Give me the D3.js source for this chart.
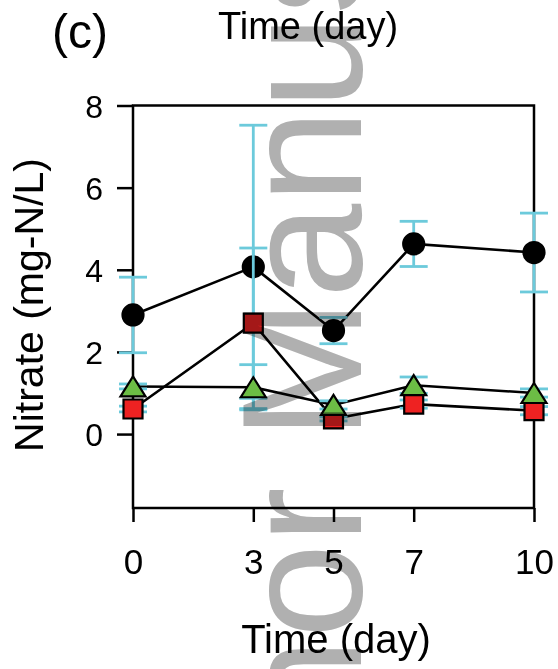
<!DOCTYPE html>
<html>
<head>
<meta charset="utf-8">
<script src="https://cdn.jsdelivr.net/npm/d3@7"></script>
<style>
  html, body { margin: 0; padding: 0; background: #fff; }
  svg { display: block; }
  text { font-family: "Liberation Sans", Arial, Helvetica, sans-serif; fill: #000; }
</style>
</head>
<body>
<svg id="chart" width="558" height="669"></svg>
<script>
// Sampling days
const days = [0, 3, 5, 7, 10];

// Nitrate (mg-N/L), mean and error for each treatment
const circleMean   = [2.90, 4.07, 2.52, 4.63, 4.42];
const circleErr    = [0.92, 3.45, 0.32, 0.55, 0.96];
const squareMean   = [0.61, 2.70, 0.37, 0.73, 0.57];
const squareErr    = [0.07, 1.83, 0.05, 0.10, 0.10];
const triangleMean = [1.16, 1.14, 0.71, 1.19, 1.00];
const triangleErr  = [0.06, 0.55, 0.10, 0.20, 0.10];

const yTicks = [0, 2, 4, 6, 8];
const xTicks = [0, 3, 5, 7, 10];

const svg = d3.select("#chart");

const x = d3.scaleLinear().domain([0, 10]).range([133, 534]);
const y = d3.scaleLinear().domain([-1.8, 8]).range([508, 105.5]);

const errColor = "#6ccadb";

// Axes
const yAxis = svg.append("g")
  .attr("transform", `translate(${x(0)},0)`)
  .call(d3.axisLeft(y).tickValues(yTicks).tickSize(16).tickSizeOuter(0).tickPadding(14));
yAxis.select(".domain").remove();
yAxis.selectAll(".tick line").attr("stroke", "#000").attr("stroke-width", 2.5);
yAxis.selectAll(".tick text")
  .style("font-size", "32px")
  .attr("dy", "0.36em");

const xAxis = svg.append("g")
  .attr("transform", `translate(0,${y(-1.8)})`)
  .call(d3.axisBottom(x).tickValues(xTicks).tickSize(14).tickSizeOuter(0).tickPadding(27));
xAxis.select(".domain").remove();
xAxis.selectAll(".tick line").attr("stroke", "#000").attr("stroke-width", 2.5);
xAxis.selectAll(".tick text")
  .style("font-size", "35px")
  .attr("dy", "0.71em");

// Frame
svg.append("rect")
  .attr("x", x(0)).attr("y", y(8))
  .attr("width", x(10) - x(0)).attr("height", y(-1.8) - y(8))
  .attr("fill", "none").attr("stroke", "#000").attr("stroke-width", 2.5);

// Series drawing helper
const line = d3.line().x(d => x(d.day)).y(d => y(d.v));

function drawSeries(means, errs, shape, fill) {
  const data = days.map((d, i) => ({ day: d, v: means[i], e: errs[i] }));
  const g = svg.append("g");
  g.append("path").datum(data)
    .attr("d", line).attr("fill", "none")
    .attr("stroke", "#000").attr("stroke-width", 2.6);
  const eb = g.selectAll(".err").data(data).join("g").attr("class", "err")
    .attr("stroke", errColor).attr("stroke-width", 2.8);
  eb.append("line")
    .attr("x1", d => x(d.day)).attr("x2", d => x(d.day))
    .attr("y1", d => y(d.v + d.e)).attr("y2", d => y(d.v - d.e));
  eb.append("line")
    .attr("x1", d => x(d.day) - 14).attr("x2", d => x(d.day) + 14)
    .attr("y1", d => y(d.v + d.e)).attr("y2", d => y(d.v + d.e));
  eb.append("line")
    .attr("x1", d => x(d.day) - 14).attr("x2", d => x(d.day) + 14)
    .attr("y1", d => y(d.v - d.e)).attr("y2", d => y(d.v - d.e));
  const m = g.selectAll(".mk").data(data).join("path").attr("class", "mk")
    .attr("transform", d => `translate(${x(d.day)},${y(d.v)})`)
    .attr("fill", fill).attr("stroke", "#000").attr("stroke-width", 2.2);
  if (shape === "circle") m.attr("d", "M-10.5,0A10.5,10.5 0 1,0 10.5,0A10.5,10.5 0 1,0 -10.5,0Z");
  if (shape === "square") m.attr("d", "M-9.5,-9.5H9.5V9.5H-9.5Z");
  if (shape === "triangle") m.attr("d", "M0,-10L12.5,10H-12.5Z");
}

drawSeries(circleMean, circleErr, "circle", "#000");
drawSeries(squareMean, squareErr, "square", "#ee2222");
drawSeries(triangleMean, triangleErr, "triangle", "#6cbd45");

// Titles
svg.append("text").attr("x", 52).attr("y", 48)
  .style("font-size", "48px").text("(c)");
svg.append("text").attr("x", 308).attr("y", 39).attr("text-anchor", "middle")
  .style("font-size", "38px").text("Time (day)");
svg.append("text").attr("x", 336).attr("y", 653).attr("text-anchor", "middle")
  .style("font-size", "40px").text("Time (day)");
svg.append("text").attr("transform", "translate(43,305) rotate(-90)")
  .attr("text-anchor", "middle")
  .style("font-size", "41px").text("Nitrate (mg-N/L)");

// Vertical watermark laid over the figure
svg.append("text").attr("transform", "translate(361,988) rotate(-90)")
  .style("font-size", "170px").style("fill", "#b0b0b0")
  .style("mix-blend-mode", "multiply")
  .text("Author Manuscript");
</script>
</body>
</html>
